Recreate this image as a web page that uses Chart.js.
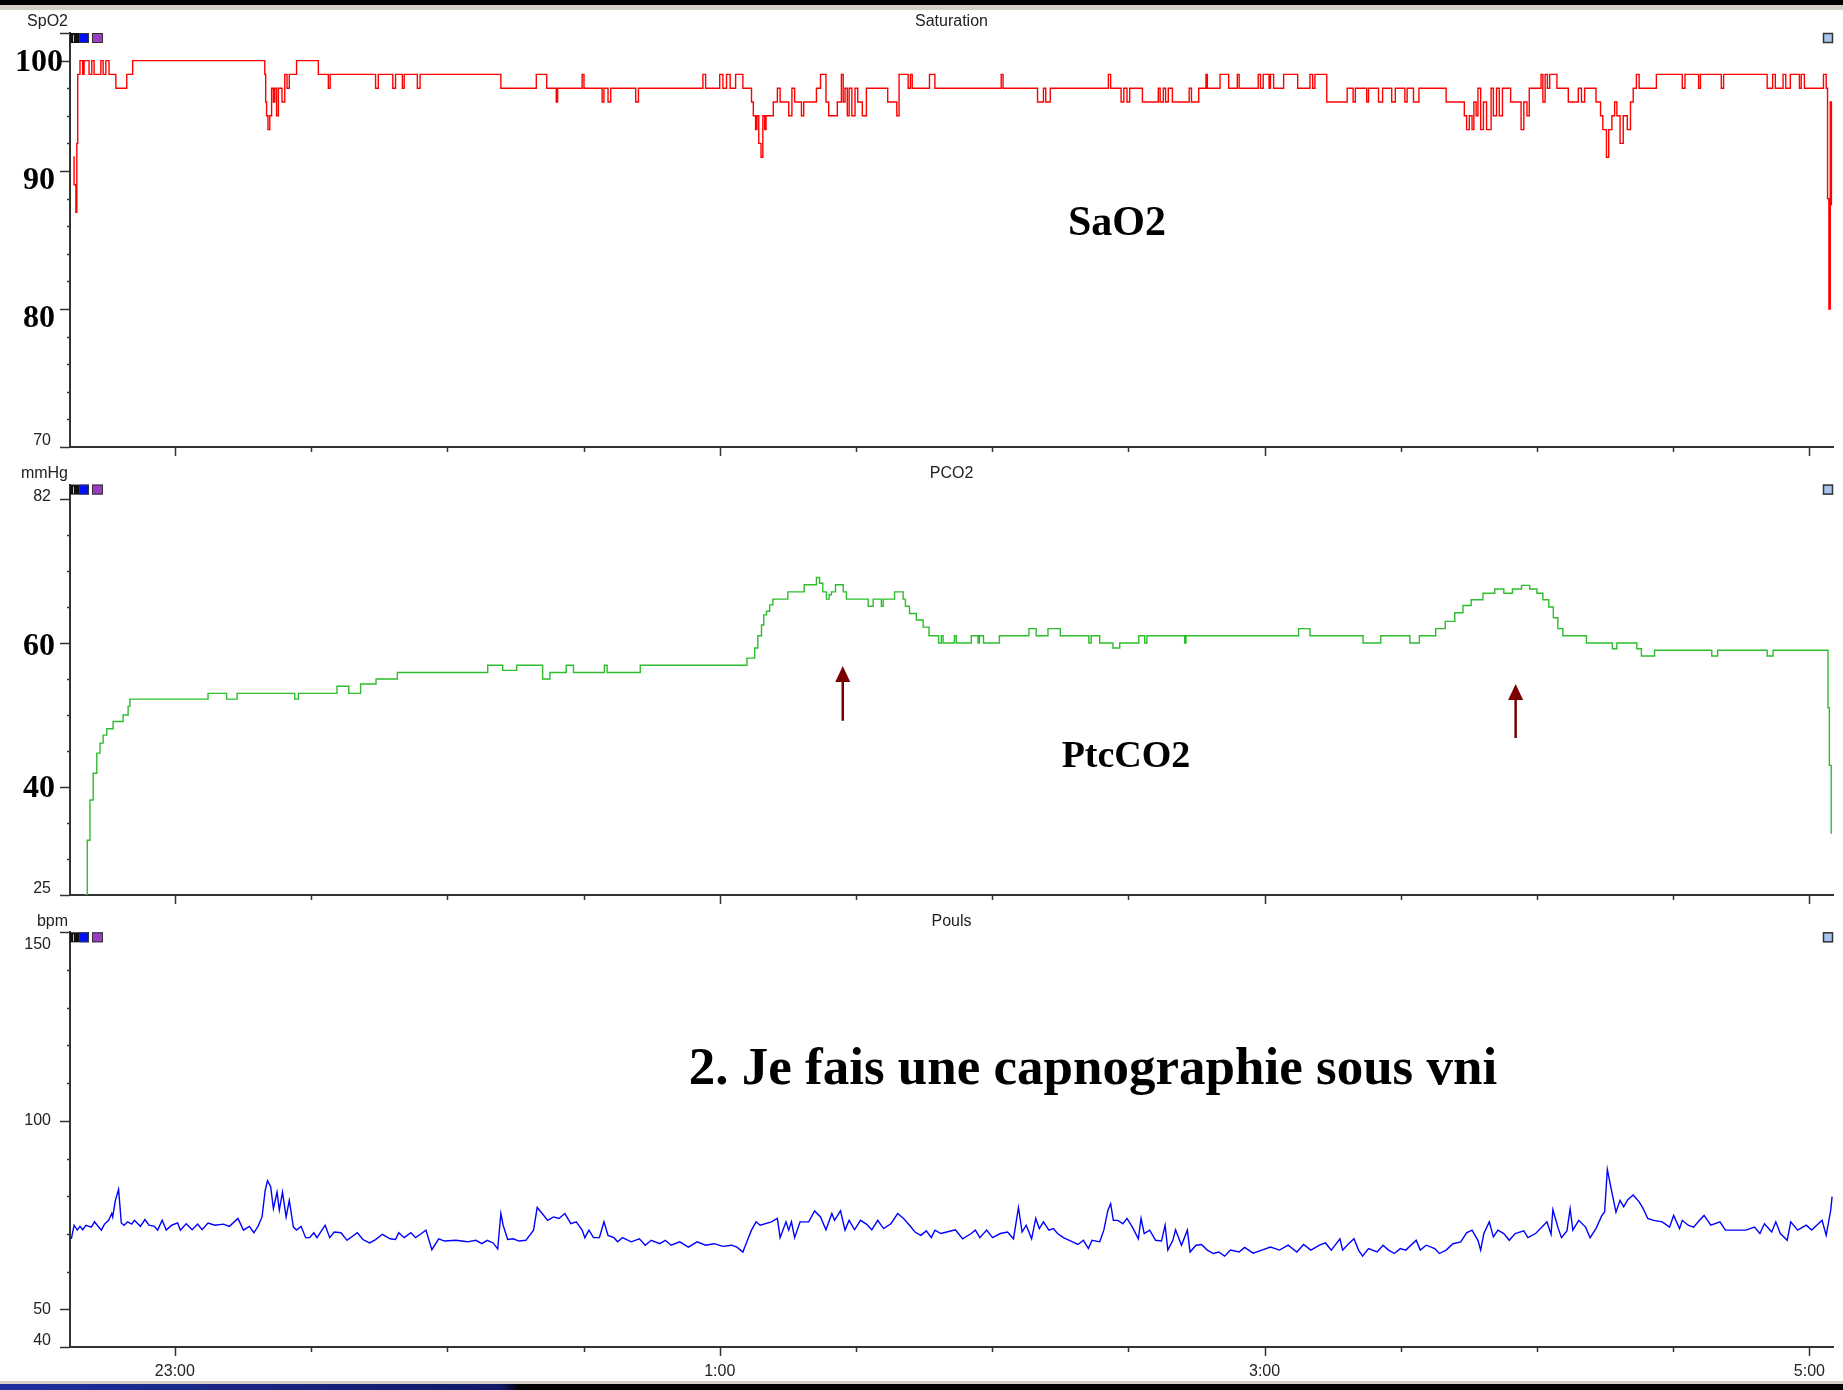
<!DOCTYPE html>
<html>
<head>
<meta charset="utf-8">
<script src="https://cdn.jsdelivr.net/npm/chart.js@4.4.1/dist/chart.umd.min.js"></script>
<style>
  body { margin: 0; width: 1843px; height: 1390px; position: relative; overflow: hidden; background: #fff; }
  canvas { position: absolute; left: 0; }
  .bar { position: absolute; left: 0; width: 1843px; }
  .note { position: absolute; font-family: "Liberation Serif", "Times New Roman", serif; font-weight: bold;
          color: #000; white-space: nowrap; line-height: 1; transform: translate(-50%, -50%); z-index: 5; }
</style>
</head>
<body>
<div class="bar" style="top:0;height:5px;background:#000"></div>
<div class="bar" style="top:5px;height:5px;background:#d4d0c8"></div>

<canvas id="satChart" width="1843" height="448" style="top:11px"></canvas>
<canvas id="pco2Chart" width="1843" height="448" style="top:459px"></canvas>
<canvas id="pulseChart" width="1843" height="474" style="top:907px"></canvas>

<div class="note" style="left:1117px;top:221px;font-size:42px">SaO2</div>
<div class="note" style="left:1126px;top:754px;font-size:38px">PtcCO2</div>
<div class="note" style="left:1093px;top:1066px;font-size:53px">2. Je fais une capnographie sous vni</div>

<div class="bar" style="top:1381px;height:3px;background:#d4d0c8"></div>
<div class="bar" style="top:1384px;height:6px;background:linear-gradient(90deg,#1f2f9f 0px,#101a66 500px,#000 520px,#000 1843px)"></div>

<script>
// time axis in minutes after 22:00 (23:00 = 60 ... 5:00 = 420)
const timeMin = 36.9;
const timeMax = 425.2;
const timeTicks = [60, 90, 120, 150, 180, 210, 240, 270, 300, 330, 360, 390, 420];
const timeLabelValues = [60, 180, 300, 420];
const timeLabelTexts = ['23:00', '1:00', '3:00', '5:00'];

// SpO2 (%), change points
const spo2Times = [37.6, 37.8, 38.2, 38.4, 38.6, 39.1, 39.7, 40.0, 41.1, 41.7, 42.2, 43.7, 44.2, 44.8, 45.5, 47.0, 49.4, 50.7,
  79.8, 80.0, 80.2, 80.5, 80.9, 81.3, 81.7, 82.0, 82.4, 82.8, 83.6, 84.2, 84.7, 85.2, 86.8,
  91.6, 93.8, 94.2, 104.2, 104.8, 108.0, 108.6, 110.1, 110.5, 113.4, 114.0,
  131.8, 139.6, 141.9, 144.0, 144.3, 149.7, 150.1, 154.1, 154.5, 155.4, 156.0, 161.5, 162.1,
  176.3, 176.9, 180.0, 180.7, 181.5, 182.3, 183.5, 185.1, 187.0, 187.4, 187.9, 188.2, 188.6, 189.1, 189.5, 189.9, 190.2,
  191.8, 192.7, 193.3, 195.2, 195.9, 196.5, 198.0, 198.5, 201.3, 202.2, 203.4, 204.0, 205.9, 206.8, 207.2, 207.6,
  208.1, 208.5, 209.1, 209.8, 210.4, 211.4, 212.3, 217.0, 219.0, 219.5, 221.5, 222.0, 222.4, 226.2, 227.4,
  242.0, 242.4, 250.0, 251.3, 251.8, 252.8, 265.6, 266.1, 268.4, 269.0, 269.7, 270.3, 273.1, 276.6, 277.0, 277.7,
  278.2, 278.8, 279.7, 283.4, 283.9, 285.5, 287.1, 287.4, 290.2, 292.1, 294.0, 294.4, 298.6, 299.1, 299.7, 301.0,
  301.3, 302.0, 304.2, 307.3, 310.0, 310.6, 311.1, 313.7, 318.2, 319.5, 320.0, 322.5, 322.9, 325.1, 326.0, 328.0,
  328.8, 330.9, 331.4, 332.8, 334.0, 340.0, 344.0, 344.5, 345.1, 345.7, 346.1, 346.6, 347.0, 347.6, 348.2, 348.9,
  349.9, 350.4, 351.1, 351.7, 352.4, 354.2, 356.5, 357.1, 357.8, 358.3, 360.9, 361.3, 361.8, 362.3, 362.8, 364.4,
  366.9, 369.1, 369.8, 370.5, 373.0, 374.0, 374.5, 375.3, 375.8, 376.5, 377.1, 377.6, 378.3, 379.0, 379.9, 380.6,
  381.2, 381.9, 382.5, 386.3, 392.0, 392.6, 395.6, 396.0, 400.6, 401.1, 410.7, 411.9, 412.5, 414.2, 414.8, 415.8,
  417.8, 418.2, 418.9, 423.1, 423.7, 424.0, 424.3, 424.6, 424.85];
const spo2Values = [91, 89, 87, 92, 97, 98, 97, 98, 97, 98, 97, 98, 97, 98, 97, 96, 97, 98,
  97, 95, 94, 93, 94, 96, 95, 96, 94, 96, 95, 97, 96, 97, 98,
  97, 96, 97, 96, 97, 96, 97, 96, 97, 96, 97,
  96, 97, 96, 95, 96, 97, 96, 95, 96, 95, 96, 95, 96,
  97, 96, 97, 96, 97, 96, 97, 96, 95, 94, 93, 94, 92, 91, 94, 93, 94,
  95, 96, 95, 94, 96, 95, 94, 95, 96, 97, 95, 94, 95, 97, 95, 96,
  94, 96, 94, 96, 95, 94, 96, 95, 94, 97, 96, 97, 96, 97, 96,
  97, 96, 95, 96, 95, 96, 97, 96, 95, 96, 95, 96, 95, 96, 95, 96,
  95, 96, 95, 96, 95, 96, 97, 96, 97, 96, 97, 96, 97, 96, 97, 96,
  97, 96, 97, 96, 97, 96, 97, 95, 96, 95, 96, 95, 96, 95, 96, 95,
  96, 95, 96, 95, 96, 95, 94, 93, 94, 93, 95, 94, 96, 93, 95, 93,
  96, 94, 96, 94, 96, 95, 93, 95, 94, 96, 97, 95, 97, 96, 97, 96,
  95, 96, 95, 96, 95, 94, 93, 91, 93, 94, 95, 94, 92, 94, 93, 95,
  96, 97, 96, 97, 96, 97, 96, 97, 96, 97, 96, 97, 96, 97, 96, 97,
  96, 97, 96, 97, 96, 88, 80, 95, 87.5];

// PtcCO2 (mmHg), change points
const pco2Times = [40.2, 40.7, 41.3, 42.0, 42.8, 43.5, 44.2, 45.0, 46.4, 48.6, 49.7, 50.1, 67.3, 71.4, 73.7, 86.4, 87.2,
  95.7, 98.3, 100.9, 104.3, 109.0, 128.9, 132.2, 135.3, 141.0, 142.6, 146.2, 147.8, 154.6, 155.2, 162.5,
  186.0, 187.7, 188.4, 189.2, 189.7, 190.3, 191.0, 191.7, 195.0, 198.6, 201.3, 202.0, 202.7, 203.5, 204.1, 204.6,
  205.5, 207.2, 207.9, 212.7, 213.8, 215.6, 216.0, 218.5, 220.4, 220.9, 221.8, 223.3, 224.8, 226.1, 228.2, 228.8,
  229.2, 231.7, 232.1, 235.4, 236.9, 237.2, 238.1, 241.6, 248.1, 249.7, 252.3, 255.0, 261.3, 261.8, 263.7, 266.6,
  268.1, 272.3, 273.6, 274.1, 282.4, 282.7, 307.5, 310.0, 321.7, 325.6, 332.0, 334.1, 337.7, 339.8, 341.9, 343.7,
  345.5, 348.1, 350.7, 352.7, 354.6, 356.6, 358.4, 360.0, 361.3, 362.6, 363.6, 364.6, 365.7, 370.9, 376.6, 377.6,
  382.0, 383.0, 385.9, 398.5, 399.8, 410.7, 412.0, 424.1, 424.4, 424.8];
const pco2Values = [25.0, 32.6, 38.2, 41.9, 44.7, 46.1, 47.2, 48.1, 49.1, 50.0, 51.2, 52.2, 53.0, 52.2, 53.0, 52.2, 53.0,
  54.0, 53.0, 54.3, 55.0, 55.9, 56.9, 56.2, 56.9, 55.0, 55.9, 56.9, 55.9, 56.9, 55.9, 56.9,
  57.9, 59.3, 61.0, 62.5, 63.9, 64.4, 65.3, 66.1, 67.1, 68.1, 69.1, 68.3, 67.1, 66.1, 66.7, 67.1,
  68.1, 67.1, 66.1, 65.1, 66.1, 65.1, 66.1, 67.1, 66.1, 65.1, 64.1, 63.2, 62.2, 61.0, 60.0, 61.0,
  60.0, 61.0, 60.0, 61.0, 60.0, 61.0, 60.0, 61.0, 62.0, 61.0, 62.0, 61.0, 60.0, 61.0, 60.0, 59.3,
  60.0, 61.0, 60.0, 61.0, 60.0, 61.0, 62.0, 61.0, 60.0, 61.0, 60.0, 61.0, 62.0, 63.0, 64.2, 65.2,
  66.0, 66.9, 67.5, 66.9, 67.5, 68.0, 67.5, 66.9, 66.0, 65.0, 63.5, 62.0, 61.0, 60.0, 59.2, 60.0,
  59.2, 58.2, 59.0, 58.2, 59.0, 58.2, 59.0, 51.0, 43.0, 33.5];

// pulse (bpm)
const pulseTimes = [37.2, 37.8, 38.5, 39.1, 39.7, 40.4, 41.6, 42.3, 42.9, 43.8, 44.5, 45.4, 46.1, 46.3, 46.9, 47.6, 47.8,
  48.2, 48.8, 49.6, 50.5, 51.1, 52.4, 53.4, 54.3, 55.5, 56.2, 57.2, 58.1, 59.3, 60.6, 61.2, 62.5, 63.8, 65.0, 66.0,
  67.3, 68.8, 70.7, 72.0, 73.9, 75.1, 76.4, 77.4, 78.3, 79.2, 79.9, 80.4, 81.1, 81.7, 82.5, 83.0, 83.7, 84.5, 85.2,
  86.1, 86.8, 87.8, 88.8, 89.7, 90.6, 91.3, 93.1, 94.1, 95.1, 96.6, 97.9, 100.2, 101.4, 102.9, 104.2, 105.7, 107.4,
  108.6, 109.3, 110.5, 112.0, 113.0, 114.3, 115.3, 116.6, 118.1, 119.4, 121.9, 124.4, 126.3, 127.6, 128.8, 130.1,
  131.1, 131.8, 132.3, 133.3, 134.5, 135.8, 137.3, 139.0, 139.8, 140.9, 142.1, 143.4, 144.6, 145.9, 147.2, 148.4,
  149.7, 150.3, 151.2, 152.2, 153.5, 154.5, 155.4, 156.7, 157.5, 158.6, 160.5, 162.3, 163.6, 164.9, 166.8, 168.0,
  169.3, 171.2, 173.1, 175.0, 176.9, 178.8, 180.7, 182.6, 183.8, 185.1, 186.1, 187.0, 188.0, 188.9, 191.4, 192.7,
  193.3, 194.6, 195.2, 195.8, 196.5, 197.7, 199.6, 200.9, 202.2, 203.4, 204.7, 205.3, 206.6, 207.6, 208.5, 209.7,
  211.0, 212.3, 213.5, 214.8, 216.1, 217.7, 219.2, 220.5, 221.8, 223.0, 224.3, 225.5, 226.6, 227.4, 228.7, 230.0,
  231.9, 233.5, 235.4, 236.3, 237.3, 238.8, 240.1, 241.8, 243.4, 244.7, 245.8, 246.6, 247.5, 248.7, 249.6, 250.4,
  251.3, 252.5, 253.5, 254.4, 255.7, 257.0, 258.9, 260.1, 261.2, 262.0, 263.7, 264.6, 265.5, 266.1, 266.7, 267.7,
  268.8, 269.7, 270.9, 272.2, 272.8, 273.5, 274.7, 276.0, 277.3, 278.1, 278.7, 279.8, 280.4, 281.7, 283.0, 283.6,
  284.9, 286.1, 287.4, 288.7, 289.9, 291.2, 292.5, 294.4, 295.6, 297.5, 299.4, 301.3, 303.3, 305.2, 307.1, 308.6,
  310.2, 312.1, 313.4, 314.7, 316.6, 317.2, 318.5, 319.7, 320.7, 321.6, 322.9, 324.8, 326.1, 327.3, 328.6, 329.9,
  331.1, 333.4, 334.3, 335.6, 337.5, 338.5, 340.0, 341.5, 343.2, 344.5, 345.7, 347.0, 347.6, 348.3, 349.5, 350.4,
  351.4, 352.7, 353.9, 355.2, 357.1, 358.0, 359.7, 362.2, 363.1, 363.5, 364.7, 365.4, 366.6, 367.3, 367.9, 369.2,
  370.7, 371.7, 373.0, 374.3, 374.9, 375.5, 376.4, 377.4, 378.3, 379.1, 380.0, 381.2, 382.5, 383.4, 384.4, 385.7,
  387.6, 389.2, 390.1, 391.4, 392.0, 393.3, 394.5, 395.8, 396.8, 398.3, 400.3, 401.5, 403.4, 406.0, 407.9, 409.1,
  410.1, 411.7, 412.6, 413.6, 415.1, 415.9, 417.4, 419.3, 420.5, 422.8, 423.7, 424.7, 425.0];
const pulseValues = [68.7, 72.3, 71.0, 72.0, 71.1, 72.3, 71.8, 73.2, 72.3, 71.0, 72.6, 73.6, 75.4, 74.5, 78.9, 81.8, 78.9,
  72.9, 72.3, 73.2, 72.6, 73.6, 72.0, 73.8, 72.3, 72.0, 71.0, 73.6, 71.0, 72.3, 72.9, 71.0, 72.7, 71.1, 72.6, 71.1,
  72.9, 72.3, 72.6, 72.0, 74.1, 71.0, 72.0, 70.3, 72.0, 74.5, 81.6, 84.1, 82.5, 76.7, 81.1, 76.3, 81.1, 74.5, 78.9,
  71.8, 71.0, 72.0, 69.0, 69.0, 70.3, 69.0, 72.3, 69.0, 70.5, 70.3, 68.3, 70.3, 68.5, 67.6, 68.5, 69.9, 68.7,
  68.5, 70.3, 69.0, 70.3, 69.0, 70.1, 71.0, 65.8, 68.7, 68.1, 68.3, 67.9, 68.3, 67.4, 68.3, 67.6,
  66.0, 75.4, 72.3, 68.5, 68.7, 68.1, 68.3, 71.0, 77.0, 75.4, 73.6, 74.5, 74.1, 75.4, 72.7, 73.2,
  71.0, 69.0, 71.0, 69.0, 69.0, 73.2, 69.6, 69.0, 67.9, 69.0, 67.9, 68.7, 67.0, 68.3, 67.4, 68.3,
  67.0, 67.9, 66.5, 67.9, 67.0, 67.4, 66.7, 67.0, 66.5, 65.2, 68.3, 71.0, 73.2, 72.3, 73.2, 74.1,
  69.0, 73.2, 71.0, 73.2, 69.0, 73.2, 73.2, 76.1, 74.5, 71.1, 75.4, 73.6, 76.1, 71.0, 73.6, 71.1,
  73.6, 72.6, 71.1, 73.6, 71.4, 72.7, 75.4, 74.1, 72.3, 70.5, 69.6, 70.8, 69.0, 71.0, 70.1, 70.5,
  71.1, 68.7, 70.1, 71.0, 69.0, 71.0, 69.0, 70.1, 70.5, 68.7, 77.0, 70.5, 72.3, 68.7, 74.1, 71.4,
  73.2, 71.0, 71.4, 70.1, 69.0, 68.3, 67.2, 68.3, 66.1, 68.3, 67.9, 71.0, 76.3, 78.0, 73.6, 73.6,
  72.7, 74.1, 71.8, 68.7, 74.1, 70.1, 71.0, 68.3, 68.1, 72.3, 65.7, 68.3, 71.1, 67.0, 71.0, 65.2,
  67.0, 67.2, 65.7, 64.8, 65.2, 64.1, 65.7, 65.2, 66.4, 64.9, 65.7, 66.5, 65.7, 67.0, 65.2, 67.2,
  65.7, 67.0, 67.6, 65.7, 68.7, 65.7, 67.4, 68.7, 65.7, 64.1, 66.1, 65.2, 67.0, 65.7, 64.8, 66.1,
  65.7, 68.3, 65.7, 67.0, 66.1, 64.8, 65.7, 67.4, 67.9, 70.3, 71.0, 68.3, 65.7, 70.1, 73.2, 69.2,
  71.0, 70.1, 68.3, 70.1, 70.8, 69.0, 70.1, 73.2, 69.9, 76.4, 71.4, 69.0, 70.8, 76.7, 71.0, 73.6,
  71.8, 69.0, 71.4, 74.9, 75.8, 87.1, 81.6, 75.8, 78.9, 77.2, 79.1, 80.3, 78.5, 76.7, 74.1, 73.6,
  73.2, 71.8, 74.9, 71.4, 73.6, 72.3, 71.8, 73.6, 74.9, 72.3, 73.2, 71.0, 71.0, 71.0, 71.8, 70.1,
  72.7, 70.5, 73.2, 70.1, 68.3, 73.2, 71.0, 72.3, 71.0, 73.6, 69.6, 76.3, 79.9];

// arrows on the PtcCO2 panel
const arrowTimes = [207.1, 355.3];
const arrowFrom = [49.2, 46.8];
const arrowTo = [56.8, 54.3];

const sans = '"Liberation Sans", Arial, sans-serif';
const serif = '"Liberation Serif", "Times New Roman", serif';

const decorPlugin = {
  id: 'decor',
  afterDraw(chart, args, o) {
    const ctx = chart.ctx;
    const a = chart.chartArea;
    const xs = chart.scales.x, ys = chart.scales.y;
    ctx.save();
    ctx.strokeStyle = '#333';
    ctx.lineWidth = 1.5;
    // y tick marks
    o.yTicks.forEach(v => {
      const py = Math.round(ys.getPixelForValue(v)) + 0.5;
      const len = o.yLong.includes(v) ? 10 : 3;
      ctx.beginPath(); ctx.moveTo(a.left - len, py); ctx.lineTo(a.left, py); ctx.stroke();
    });
    // x tick marks
    timeTicks.forEach(t => {
      const px = Math.round(xs.getPixelForValue(t)) + 0.5;
      const len = timeLabelValues.includes(t) ? 9 : 5;
      ctx.beginPath(); ctx.moveTo(px, a.bottom); ctx.lineTo(px, a.bottom + len); ctx.stroke();
    });
    // y labels (big ones were pasted over the screenshot, slightly off their ticks)
    ctx.textBaseline = 'middle';
    o.yLabelValues.forEach((v, i) => {
      const big = o.yBig.includes(v);
      let py = ys.getPixelForValue(v);
      if (big) {
        ctx.font = 'bold 32px ' + serif; ctx.fillStyle = '#000'; ctx.textAlign = 'center';
        ctx.fillText(o.yLabelTexts[i], 39, py + 2 + (o.yNudge[v] || 0));
      } else {
        py = Math.min(Math.max(py, a.top + 12), a.bottom - 6);
        ctx.font = '16px ' + sans; ctx.fillStyle = '#222'; ctx.textAlign = 'right';
        ctx.fillText(o.yLabelTexts[i], 51, py);
      }
    });
    // unit and title
    ctx.font = '16px ' + sans; ctx.fillStyle = '#222';
    ctx.textAlign = 'right';
    ctx.fillText(o.unit, 68, a.top - 11);
    ctx.textAlign = 'center';
    ctx.fillText(o.title, (a.left + a.right) / 2, a.top - 11);
    // small window icons
    ctx.lineWidth = 1;
    ctx.fillStyle = '#111'; ctx.fillRect(a.left, a.top, 9, 10);
    ctx.fillStyle = '#9ec2f0'; ctx.fillRect(a.left + 3, a.top + 2, 1, 7);
    ctx.fillStyle = '#0010ff'; ctx.fillRect(a.left + 9, a.top, 10, 10);
    ctx.strokeRect(a.left + 9.5, a.top + 0.5, 9, 9);
    ctx.fillStyle = '#9a3cc4'; ctx.fillRect(a.left + 22, a.top, 11, 10);
    ctx.strokeRect(a.left + 22.5, a.top + 0.5, 10, 9);
    ctx.fillStyle = '#a6c6ee'; ctx.fillRect(a.right - 10, a.top, 10, 10);
    ctx.lineWidth = 1.5; ctx.strokeRect(a.right - 9.5, a.top + 0.5, 9, 9);
    // arrows
    (o.arrows || []).forEach(ar => {
      ar.times.forEach((t, i) => {
        const px = xs.getPixelForValue(t);
        const y0 = ys.getPixelForValue(ar.from[i]);
        const y1 = ys.getPixelForValue(ar.to[i]);
        ctx.strokeStyle = '#7a0000'; ctx.fillStyle = '#7a0000'; ctx.lineWidth = 2.5;
        ctx.beginPath(); ctx.moveTo(px, y0); ctx.lineTo(px, y1 + 14); ctx.stroke();
        ctx.beginPath(); ctx.moveTo(px, y1); ctx.lineTo(px - 7.5, y1 + 16); ctx.lineTo(px + 7.5, y1 + 16); ctx.closePath(); ctx.fill();
      });
    });
    ctx.restore();
  }
};

function buildPanel(id, cfg) {
  return new Chart(document.getElementById(id), {
    type: 'line',
    data: {
      datasets: [{
        data: cfg.times.map((t, i) => ({ x: t, y: cfg.values[i] })),
        borderColor: cfg.color,
        borderWidth: 1.4,
        pointRadius: 0,
        stepped: cfg.stepped,
        tension: 0
      }]
    },
    options: {
      responsive: false,
      animation: false,
      events: [],
      layout: { padding: { top: cfg.padTop, right: 10, left: 0, bottom: 0 } },
      plugins: { legend: { display: false }, tooltip: { enabled: false }, decor: cfg.decor },
      scales: {
        x: {
          type: 'linear', min: timeMin, max: timeMax,
          afterBuildTicks: s => { s.ticks = timeTicks.map(v => ({ value: v })); },
          afterFit: s => { s.height = cfg.xHeight; },
          grid: { display: false, drawTicks: false },
          border: { display: true, color: '#333', width: 2 },
          ticks: {
            display: cfg.showTime, autoSkip: false, maxRotation: 0, padding: 15, color: '#222',
            font: { family: sans, size: 16 },
            callback: v => { const i = timeLabelValues.indexOf(v); return i < 0 ? '' : timeLabelTexts[i]; }
          }
        },
        y: {
          type: 'linear', min: cfg.yMin, max: cfg.yMax,
          afterFit: s => { s.width = 70; },
          grid: { display: false, drawTicks: false },
          border: { display: true, color: '#333', width: 2 },
          ticks: { display: false }
        }
      }
    },
    plugins: [decorPlugin]
  });
}

buildPanel('satChart', {
  times: spo2Times, values: spo2Values, color: '#ff0000', stepped: true,
  yMin: 70, yMax: 100, padTop: 22, xHeight: 12, showTime: false,
  decor: {
    unit: 'SpO2', title: 'Saturation',
    yTicks: [70, 72, 74, 76, 78, 80, 82, 84, 86, 88, 90, 92, 94, 96, 98, 100],
    yLong: [70, 80, 90, 98, 100],
    yLabelValues: [70, 80, 90, 98], yLabelTexts: ['70', '80', '90', '100'], yBig: [80, 90, 98],
    yNudge: { 80: 8, 90: 8 }
  }
});

buildPanel('pco2Chart', {
  times: pco2Times, values: pco2Values, color: '#2dbd2d', stepped: true,
  yMin: 25, yMax: 82, padTop: 25.6, xHeight: 12, showTime: false,
  decor: {
    unit: 'mmHg', title: 'PCO2',
    yTicks: [25, 30, 35, 40, 45, 50, 55, 60, 65, 70, 75, 80],
    yLong: [25, 40, 60, 80],
    yLabelValues: [82, 60, 40, 25], yLabelTexts: ['82', '60', '40', '25'], yBig: [60, 40],
    yNudge: { 60: 2 },
    arrows: [{ times: arrowTimes, from: arrowFrom, to: arrowTo }]
  }
});

buildPanel('pulseChart', {
  times: pulseTimes, values: pulseValues, color: '#0000ff', stepped: false,
  yMin: 40, yMax: 150, padTop: 25.3, xHeight: 34, showTime: true,
  decor: {
    unit: 'bpm', title: 'Pouls',
    yTicks: [40, 50, 60, 70, 80, 90, 100, 110, 120, 130, 140, 150],
    yLong: [40, 50, 100, 150],
    yLabelValues: [150, 100, 50, 40], yLabelTexts: ['150', '100', '50', '40'], yBig: [],
    yNudge: {}
  }
});
</script>
</body>
</html>
